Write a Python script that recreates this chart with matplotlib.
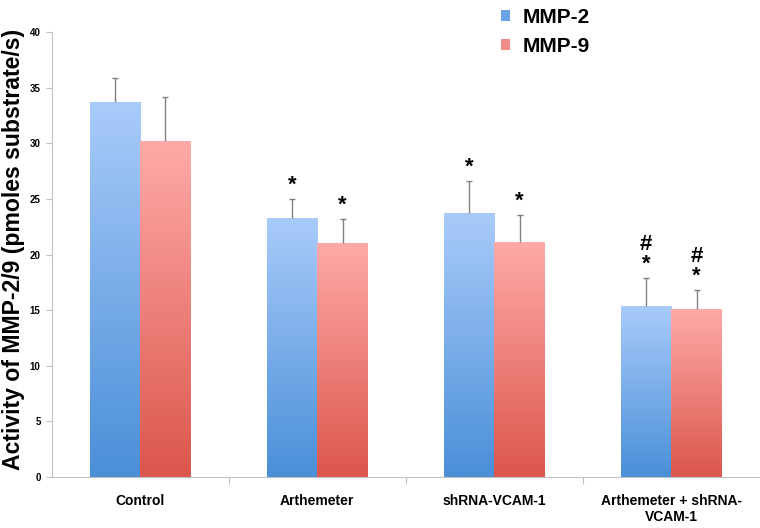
import numpy as np
import matplotlib
matplotlib.use("Agg")
import matplotlib.pyplot as plt
from matplotlib.patches import Patch

plt.rcParams['font.family'] = ['Liberation Sans', 'DejaVu Sans']

groups = ["Control", "Arthemeter", "shRNA-VCAM-1", "Arthemeter + shRNA-\nVCAM-1"]
mmp2 = [33.75, 23.3, 23.7, 15.4]
mmp2_err = [2.1, 1.7, 2.9, 2.5]
mmp9 = [30.2, 21.0, 21.1, 15.1]
mmp9_err = [4.0, 2.2, 2.5, 1.7]
marks2 = ["", "*", "*", "#\n*"]
marks9 = ["", "*", "*", "#\n*"]

fig = plt.figure(figsize=(7.6, 5.28), dpi=100)
ax = fig.add_axes([0.068, 0.0966, 0.932, 0.8424])

x = np.arange(len(groups))
w = 0.285


def gradient_bars(bars, top_col, bot_col):
    grad = np.linspace(0, 1, 256).reshape(-1, 1)
    c1 = np.array(matplotlib.colors.to_rgb(top_col))
    c2 = np.array(matplotlib.colors.to_rgb(bot_col))
    img = c2 * grad[..., None] + c1 * (1 - grad[..., None])
    img = img[::-1]
    for b in bars:
        x0, y0 = b.get_x(), b.get_y()
        x1, y1 = x0 + b.get_width(), y0 + b.get_height()
        im = ax.imshow(img, extent=[x0, x1, y0, y1], aspect='auto', origin='lower', zorder=2)
        im.set_clip_path(b)
        b.set_facecolor('none')


b2 = ax.bar(x - w / 2, mmp2, w, color='#7fb0ee', zorder=2)
b9 = ax.bar(x + w / 2, mmp9, w, color='#f08f8a', zorder=2)
gradient_bars(b2, '#a9cbfa', '#4a8fd8')
gradient_bars(b9, '#ffaaa8', '#db564c')

for xs, vals, errs in [(x - w / 2, mmp2, mmp2_err), (x + w / 2, mmp9, mmp9_err)]:
    eb = ax.errorbar(xs, vals, yerr=[np.zeros(4), errs], fmt='none', ecolor='#808080',
                     elinewidth=1, capsize=2.5, capthick=1, zorder=3)
    eb[1][0].set_visible(False)  # hide the cap at the bar top

for i in range(len(groups)):
    if marks2[i]:
        ax.text(x[i] - w / 2, mmp2[i] + mmp2_err[i] + 0.3, marks2[i], ha='center', va='bottom',
                fontsize=16, fontweight='bold', linespacing=0.9)
    if marks9[i]:
        ax.text(x[i] + w / 2, mmp9[i] + mmp9_err[i] + 0.3, marks9[i], ha='center', va='bottom',
                fontsize=16, fontweight='bold', linespacing=0.9)

ax.set_xlim(-0.5, 3.5)
ax.set_ylim(0, 40)
ax.set_yticks(range(0, 41, 5))
ax.set_xticks([0.5, 1.5, 2.5])
ax.set_xticklabels([])
ax.set_xticks(x, minor=True)
ax.set_xticklabels(groups, minor=True, fontsize=10, fontweight='bold')
ax.tick_params(axis='x', which='minor', length=0, pad=12)
ax.tick_params(axis='x', which='major', length=5, color='#c0c0c0', direction='out')
ax.tick_params(axis='y', length=4, color='#c0c0c0', labelsize=7, pad=4)
for t in ax.get_yticklabels():
    t.set_fontweight('bold')

for s in ['top', 'right']:
    ax.spines[s].set_visible(False)
for s in ['left', 'bottom']:
    ax.spines[s].set_color('#c0c0c0')

fig.text(0.018, 0.527, "Activity of MMP-2/9 (pmoles substrate/s)", rotation=90,
         ha='center', va='center', fontsize=16.6, fontweight='bold')

handles = [Patch(facecolor='#6aa2e6', label='MMP-2'), Patch(facecolor='#ef8c88', label='MMP-9')]
fig.legend(handles=handles, loc='upper left', bbox_to_anchor=(0.634, 1.02), frameon=False,
           prop={'weight': 'bold', 'size': 15}, handlelength=0.45, handleheight=0.45,
           handletextpad=0.6, labelspacing=0.45)

fig.savefig("out.png", dpi=100)
